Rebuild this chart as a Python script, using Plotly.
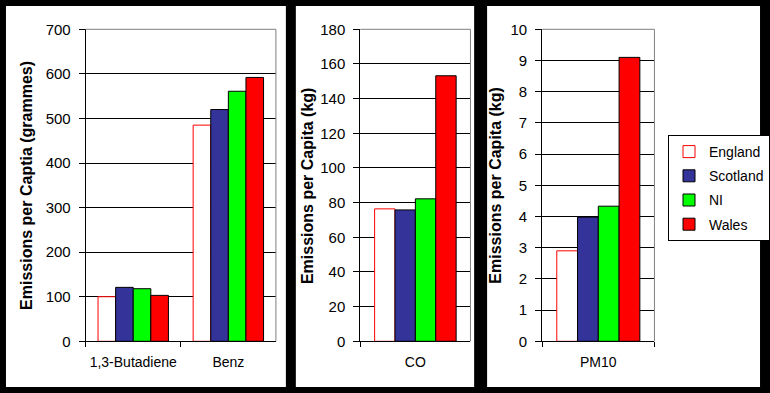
import plotly.graph_objects as go

series = ["England", "Scotland", "NI", "Wales"]
fills = ["#FFFFFF", "#333399", "#00FF00", "#FF0000"]
outlines = ["#FF0000", "#000000", "#000000", "#000000"]

cats1 = ["1,3-Butadiene", "Benz"]
vals1 = {"England": [100, 485], "Scotland": [121, 520], "NI": [118, 561], "Wales": [103, 592]}
cats2 = ["CO"]
vals2 = {"England": [76.4], "Scotland": [75.8], "NI": [82.2], "Wales": [153.2]}
cats3 = ["PM10"]
vals3 = {"England": [2.9], "Scotland": [3.98], "NI": [4.33], "Wales": [9.1]}

ytitles = ["Emissions per Captia (grammes)", "Emissions per Capita (kg)", "Emissions per Capita (kg)"]
yranges = [[0, 700], [0, 180], [0, 10]]
ydtick = [100, 20, 1]

W, H = 770, 393
def px(x): return x / W
def py(y): return 1 - y / H

fig = go.Figure()
panels = [(cats1, vals1, "x", "y"), (cats2, vals2, "x2", "y2"), (cats3, vals3, "x3", "y3")]
for pi, (cats, vals, xa, ya) in enumerate(panels):
    for i, s in enumerate(series):
        fig.add_trace(go.Bar(
            x=cats, y=vals[s], name=s, xaxis=xa, yaxis=ya,
            marker=dict(color=fills[i], line=dict(color=outlines[i], width=1)),
            showlegend=(pi == 0), legendgroup=s,
        ))

plot_x = [(86, 277), (361.7, 472.3), (544.3, 657)]
ytop, ybot = 29.3, 341.3
font = "Arial, Liberation Sans, sans-serif"

layout = dict(
    template="none",
    width=W, height=H, margin=dict(l=0, r=0, t=0, b=0, pad=0),
    paper_bgcolor="#000000", plot_bgcolor="#FFFFFF",
    barmode="group", bargap=0.26, bargroupgap=0,
    font=dict(family=font, size=14, color="#000000"),
    legend=dict(x=px(671), y=py(135), xanchor="left", yanchor="top",
                bgcolor="#FFFFFF", bordercolor="#000000", borderwidth=1,
                font=dict(size=14, color="#000000"), tracegroupgap=3,
                itemwidth=30),
    shapes=[], annotations=[],
)

for k in range(3):
    sx = "" if k == 0 else str(k + 1)
    layout["xaxis" + sx] = dict(
        domain=[px(plot_x[k][0]), px(plot_x[k][1])], anchor="y" + sx,
        automargin=False,
        showline=True, linecolor="#000000", linewidth=1,
        ticks="outside", tickson="boundaries", ticklen=5, tickcolor="#000000",
        showgrid=False, tickfont=dict(size=14, color="#000000"),
        ticklabelstandoff=8, tickangle=0,
    )
    layout["yaxis" + sx] = dict(
        domain=[py(ybot), py(ytop)], anchor="x" + sx,
        automargin=False,
        range=yranges[k], dtick=ydtick[k], tick0=0,
        showline=True, linecolor="#000000", linewidth=1,
        ticks="outside", ticklen=6, tickcolor="#000000",
        showgrid=True, gridcolor="#000000", gridwidth=1, zeroline=False,
        tickfont=dict(size=15, color="#000000"), ticklabelstandoff=5,
    )

panels_px = [(6, 287), (297, 476), (489, 763)]
for (x0, x1) in panels_px:
    layout["shapes"].append(dict(type="rect", xref="paper", yref="paper",
                                 x0=px(x0), x1=px(x1), y0=py(387), y1=py(6),
                                 fillcolor="#FFFFFF", line=dict(width=0), layer="below"))
for k in range(3):
    sx = "" if k == 0 else str(k + 1)
    layout["shapes"].append(dict(type="line", xref="x" + sx + " domain", yref="y" + sx + " domain",
                                 x0=0, x1=1, y0=1, y1=1, line=dict(color="#808080", width=1), layer="above"))
    layout["shapes"].append(dict(type="line", xref="x" + sx + " domain", yref="y" + sx + " domain",
                                 x0=1, x1=1, y0=0, y1=1, line=dict(color="#808080", width=1), layer="above"))

title_x = [26.7, 308, 497.3]
for k in range(3):
    layout["annotations"].append(dict(
        text=ytitles[k], x=px(title_x[k]), y=py((ytop + ybot) / 2), xref="paper", yref="paper",
        textangle=-90, showarrow=False, xanchor="center", yanchor="middle",
        font=dict(family=font, size=16, color="#000000", weight="bold"),
    ))

fig.update_layout(**layout)
fig.write_html("out.html", config={"displayModeBar": False},
               post_script="document.body.style.margin='0';document.body.style.overflow='hidden';")
